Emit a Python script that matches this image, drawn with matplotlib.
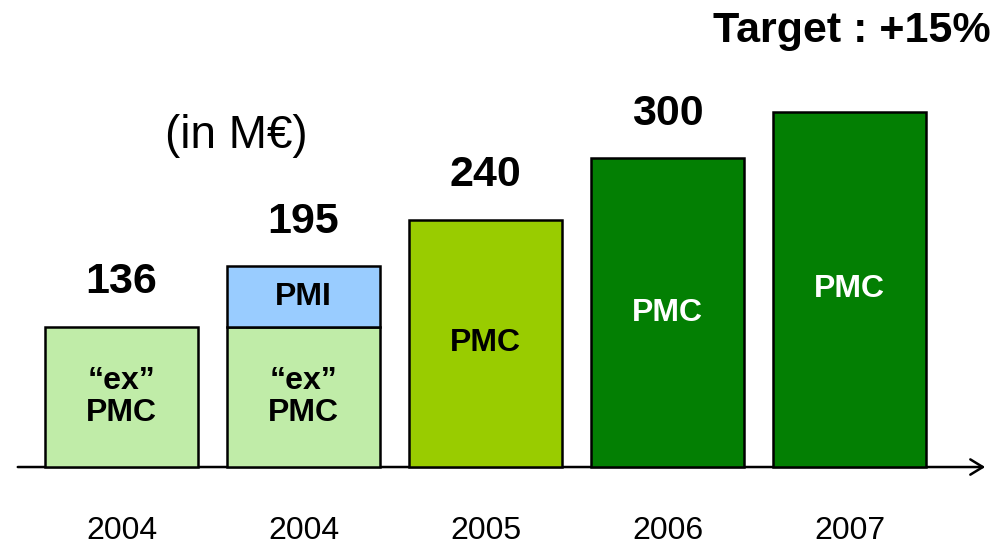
import numpy as np
import matplotlib as mpl
import matplotlib.pyplot as plt

mpl.rcParams['font.family'] = ['Liberation Sans', 'DejaVu Sans']

# Data (in M EUR)
years = ['2004', '2004', '2005', '2006', '2007']
ex_pmc = [136, 136, 0, 0, 0]
pmi = [0, 59, 0, 0, 0]
pmc = [0, 0, 240, 300, 345]
totals = ['136', '195', '240', '300', '']

c_ex = '#C0ECA8'
c_pmi = '#99CCFF'
c_pmc05 = '#99CC00'
c_pmc = '#037F03'

fig = plt.figure(figsize=(9.98, 5.45), dpi=100)
ax = fig.add_axes([0, 0, 1, 1])
ax.set_xlim(-0.668, 4.816)
ax.set_ylim(-75.7, 453.4)
ax.axis('off')

x = np.arange(len(years))
w = 0.84
ex_pmc = np.array(ex_pmc)
pmi = np.array(pmi)
pmc = np.array(pmc)

# axis line with open arrow
ax.annotate('', xy=(988/998, 0), xytext=(15/998, 0),
            xycoords=('axes fraction', 'data'), textcoords=('axes fraction', 'data'),
            arrowprops=dict(arrowstyle='->,head_length=0.9,head_width=0.55', lw=1.8, color='black'),
            zorder=1)

ekw = dict(edgecolor='black', linewidth=1.8, zorder=2)
ax.bar(x[:2], ex_pmc[:2], w, color=c_ex, **ekw)
ax.bar(x[1], pmi[1], w, bottom=ex_pmc[1], color=c_pmi, **ekw)
ax.bar(x[2], pmc[2], w, color=c_pmc05, **ekw)
ax.bar(x[3:], pmc[3:], w, color=c_pmc, **ekw)

# text inside bars
for i in range(2):
    ax.text(x[i], ex_pmc[i] / 2, '\u201cex\u201d\nPMC', ha='center', va='center',
            fontsize=23, fontweight='bold', linespacing=1.05, zorder=3)
ax.text(x[1], ex_pmc[1] + pmi[1] / 2, 'PMI', ha='center', va='center',
        fontsize=23, fontweight='bold', zorder=3)
ax.text(x[2], pmc[2] / 2, 'PMC', ha='center', va='center',
        fontsize=23, fontweight='bold', zorder=3)
for i in range(3, 5):
    ax.text(x[i], pmc[i] / 2, 'PMC', ha='center', va='center',
            fontsize=23, fontweight='bold', color='white', zorder=3)

# totals above bars
tops = ex_pmc + pmi + pmc
for i in range(len(years)):
    if totals[i]:
        ax.annotate(totals[i], (x[i], tops[i]), xytext=(0, 32), textcoords='offset points',
                    ha='center', va='center', fontsize=31, fontweight='bold')

# year labels
for i in range(len(years)):
    ax.text(x[i], -62, years[i], ha='center', va='center', fontsize=23)

ax.text(991/998, 1 - 31/545, 'Target : +15%', transform=ax.transAxes,
        ha='right', va='center', fontsize=31, fontweight='bold')
ax.text(236/998, 1 - 136/545, '(in M\u20ac)', transform=ax.transAxes,
        ha='center', va='center', fontsize=33)

fig.savefig('out.png', dpi=100)
